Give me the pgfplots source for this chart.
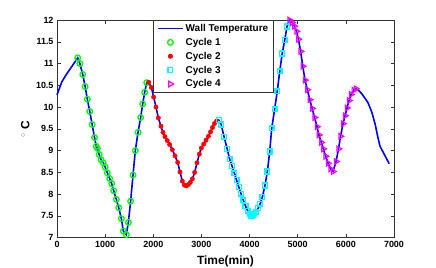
\documentclass[border=0pt]{standalone}
\usepackage{pgfplots}
\pgfplotsset{compat=1.18}
\usepackage{fontspec}
\setmainfont{Liberation Sans}
\definecolor{mblue}{rgb}{0,0,1}
\definecolor{mgreen}{rgb}{0,1,0}
\definecolor{mred}{rgb}{1,0,0}
\definecolor{mcyan}{rgb}{0,1,1}
\definecolor{mmag}{rgb}{1,0,1}
\pgfplotsset{
  marklegend/.style={legend image code/.code={
    \draw[mark repeat=2,mark phase=2,##1] plot coordinates {(0bp,0bp) (12.5bp,0bp) (25bp,0bp)};}},
  linelegend/.style={legend image code/.code={
    \draw[##1] (0bp,0bp) -- (25bp,0bp);}}
}
\begin{document}
\begin{tikzpicture}
\useasboundingbox (0,0) rectangle (436bp,268bp);
\begin{axis}[
  at={(57bp,30.3bp)}, anchor=south west,
  width=337bp, height=217.7bp, scale only axis,
  xmin=0, xmax=7000, ymin=7, ymax=12,
  clip=false,
  xtick={0,1000,2000,3000,4000,5000,6000,7000},
  ytick={7,7.5,8,8.5,9,9.5,10,10.5,11,11.5,12},
  scaled x ticks=false,
  /pgf/number format/1000 sep={},
  /pgf/number format/assume math mode=true,
  tick label style={font=\bfseries\fontsize{9}{10}\selectfont},
  tick align=inside,
  major tick length=3.5bp,
  every tick/.style={black!80, line width=0.5bp},
  axis line style={black!80, line width=0.6bp},
  xlabel={Time(min)},
  xlabel style={font=\bfseries\fontsize{12}{14}\selectfont, at={(axis description cs:0.5,0)}, anchor=north, yshift=-15bp},
  ylabel={{\normalfont\color{black!60}$^\circ$}\ \textbf{C}},
  ylabel style={font=\fontsize{12}{14}\selectfont, at={(axis description cs:-0.094,0.5)}, anchor=center, rotate=0},
  legend style={at={(0.2858,1)}, anchor=north west, draw=black!80, line width=0.6bp,
    font=\bfseries\fontsize{10}{12}\selectfont, inner xsep=3.5bp, inner ysep=1.8bp,
    row sep=1.2bp},
  legend cell align=left,
]
\addplot[mblue, line width=1.6bp, linelegend] coordinates {
(0,10.28) (100,10.58) (200,10.76) (300,10.92) (380,11.05) (430,11.13)
(475,11.00) (535,10.75) (585,10.47) (630,10.18) (680,9.90) (730,9.60) (780,9.30)
(815,9.10) (840,9.05) (875,8.91) (915,8.79) (960,8.72) (1000,8.62) (1045,8.49)
(1094,8.36) (1136,8.24) (1177,8.08) (1232,7.88) (1282,7.69) (1337,7.44) (1378,7.15)
(1440,7.07) (1482,7.35) (1530,7.84) (1579,8.44) (1627,9.00) (1683,9.42) (1738,9.76)
(1780,10.07) (1821,10.34) (1863,10.56) (1885,10.58)
(1904,10.57) (1960,10.45) (2008,10.23) (2056,10.00) (2105,9.75) (2160,9.56) (2202,9.42)
(2243,9.32) (2290,9.23) (2340,9.14) (2395,9.02) (2451,8.88) (2507,8.73) (2555,8.51)
(2603,8.30) (2645,8.21) (2686,8.19) (2728,8.22) (2769,8.27) (2811,8.35) (2860,8.50)
(2908,8.72) (2956,8.92) (2998,9.06) (3047,9.15) (3095,9.24) (3144,9.33) (3190,9.43)
(3230,9.53) (3270,9.62) (3317,9.68)
(3360,9.70) (3410,9.60) (3470,9.32) (3535,9.04) (3585,8.81) (3635,8.65) (3685,8.48)
(3730,8.32) (3778,8.16) (3822,8.01) (3870,7.86) (3915,7.73) (3960,7.62) (4000,7.54)
(4040,7.51) (4070,7.52) (4100,7.55) (4140,7.60) (4180,7.68) (4220,7.78) (4265,7.93)
(4320,8.20) (4370,8.52) (4418,8.98) (4460,9.51) (4520,9.95) (4575,10.36) (4626,10.82)
(4678,11.23) (4730,11.54) (4778,11.85)
(4830,12.00) (4888,11.94) (4930,11.86) (4975,11.74) (5015,11.56) (5060,11.28) (5105,10.94)
(5152,10.62) (5200,10.40) (5250,10.17) (5300,9.97) (5350,9.76) (5400,9.55) (5440,9.36)
(5490,9.19) (5532,9.04) (5581,8.87) (5630,8.71) (5680,8.58) (5733,8.52) (5796,8.75)
(5848,9.04) (5890,9.33) (5941,9.62) (5983,9.80) (6024,9.98) (6066,10.15) (6107,10.29)
(6163,10.39) (6211,10.42)
(6260,10.39) (6320,10.32) (6400,10.20) (6460,10.10) (6540,9.88) (6610,9.60) (6660,9.33)
(6710,9.10) (6800,8.91) (6900,8.70)
};
\addlegendentry{Wall Temperature}
\addplot[only marks, mark=o, mgreen, mark size=2.8bp, line width=1.3bp, marklegend] coordinates {
(430,11.13) (475,11.00) (535,10.75) (585,10.47) (630,10.18) (680,9.90) (730,9.60) (780,9.30)
(815,9.10) (840,9.05) (875,8.91) (915,8.79) (960,8.72) (1000,8.62) (1045,8.49)
(1094,8.36) (1136,8.24) (1177,8.08) (1232,7.88) (1282,7.69) (1337,7.44) (1378,7.15)
(1440,7.07) (1482,7.35) (1530,7.84) (1579,8.44) (1627,9.00) (1683,9.42) (1738,9.76)
(1780,10.07) (1821,10.34) (1863,10.56)
};
\addlegendentry{Cycle 1}
\addplot[only marks, mark=*, mred, mark size=2.2bp, marklegend] coordinates {
(1904,10.57) (1960,10.45) (2008,10.23) (2056,10.00) (2105,9.75) (2160,9.56) (2202,9.42)
(2243,9.32) (2290,9.23) (2340,9.14) (2395,9.02) (2451,8.88) (2507,8.73) (2555,8.51)
(2603,8.30) (2645,8.21) (2686,8.19) (2728,8.22) (2769,8.27) (2811,8.35) (2860,8.50)
(2908,8.72) (2956,8.92) (2998,9.06) (3047,9.15) (3095,9.24) (3144,9.33) (3190,9.43)
(3230,9.53) (3270,9.62) (3317,9.68)
};
\addlegendentry{Cycle 2}
\addplot[only marks, mark=square, mcyan, mark size=2.4bp, line width=1.3bp, marklegend] coordinates {
(3360,9.70) (3410,9.60) (3470,9.32) (3535,9.04) (3585,8.81) (3635,8.65) (3685,8.48)
(3730,8.32) (3778,8.16) (3822,8.01) (3870,7.86) (3915,7.73) (3960,7.62) (4000,7.54)
(4040,7.51) (4070,7.52) (4100,7.55) (4140,7.60) (4180,7.68) (4220,7.78) (4265,7.93)
(4320,8.20) (4370,8.52) (4418,8.98) (4460,9.51) (4520,9.95) (4575,10.36) (4626,10.82)
(4678,11.23) (4730,11.54) (4778,11.85)
};
\addlegendentry{Cycle 3}
\addplot[only marks, mark=triangle, mmag, mark size=3.2bp, line width=1.2bp, mark options={rotate=-90}, marklegend] coordinates {
(4830,12.00) (4888,11.94) (4930,11.86) (4975,11.74) (5015,11.56) (5060,11.28) (5105,10.94)
(5152,10.62) (5200,10.40) (5250,10.17) (5300,9.97) (5350,9.76) (5400,9.55) (5440,9.36)
(5490,9.19) (5532,9.04) (5581,8.87) (5630,8.71) (5680,8.58) (5733,8.52) (5796,8.75)
(5848,9.04) (5890,9.33) (5941,9.62) (5983,9.80) (6024,9.98) (6066,10.15) (6107,10.29)
(6163,10.39) (6211,10.42)
};
\addlegendentry{Cycle 4}
\end{axis}
\end{tikzpicture}
\end{document}
